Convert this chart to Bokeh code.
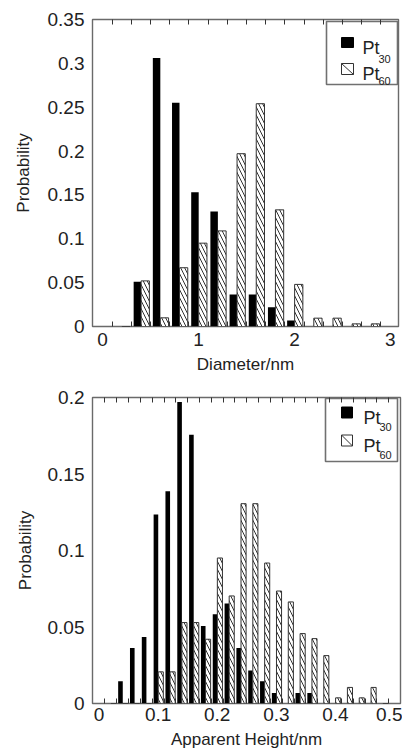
from bokeh.plotting import figure
from bokeh.models import FixedTicker, LinearAxis, Range1d
from bokeh.layouts import column
from bokeh.core.properties import value
from bokeh.embed import file_html
from bokeh.resources import INLINE

# ---------------- data: diameter histogram ----------------
diam_centers = [0.2, 0.4, 0.6, 0.8, 1.0, 1.2, 1.4, 1.6, 1.8, 2.0, 2.2, 2.4, 2.6, 2.8]
pt30_diam = [0, 0.051, 0.306, 0.255, 0.153, 0.131, 0.0365, 0.0365, 0.022, 0.0068, 0, 0, 0, 0]
pt60_diam = [0, 0.052, 0.0099, 0.067, 0.095, 0.109, 0.197, 0.254, 0.133, 0.048, 0.0095, 0.0095, 0.003, 0.003]
diam_edges = [0.1, 0.3, 0.5, 0.7, 0.9, 1.1, 1.3, 1.5, 1.7, 1.9, 2.1, 2.3, 2.5, 2.7, 2.9]
diam_xticks = [0, 1, 2, 3]
diam_xlabels = ["0", "1", "2", "3"]
diam_yticks = [0, 0.05, 0.1, 0.15, 0.2, 0.25, 0.3, 0.35]
diam_ylabels = ["0", "0.05", "0.1", "0.15", "0.2", "0.25", "0.3", "0.35"]

# ---------------- data: apparent height histogram ----------------
height_centers = [0.02, 0.04, 0.06, 0.08, 0.10, 0.12, 0.14, 0.16, 0.18, 0.20, 0.22, 0.24,
                  0.26, 0.28, 0.30, 0.32, 0.34, 0.36, 0.38, 0.40, 0.42, 0.44, 0.46, 0.48]
pt30_height = [0, 0.0146, 0.0363, 0.0435, 0.1236, 0.1387, 0.197, 0.1757, 0.0507, 0.0583, 0.0653, 0.0363,
               0.0215, 0.0146, 0.0069, 0, 0.0069, 0.0069, 0, 0, 0, 0, 0, 0]
pt60_height = [0, 0, 0, 0, 0.0207, 0.0207, 0.0529, 0.0529, 0.042, 0.0951, 0.0703, 0.1306,
               0.1306, 0.0918, 0.0735, 0.0664, 0.0457, 0.0424, 0.0313, 0.0037, 0.0105, 0.0037, 0.0105, 0]
height_edges = [0.01, 0.03, 0.05, 0.07, 0.09, 0.11, 0.13, 0.15, 0.17, 0.19, 0.21, 0.23, 0.25,
                0.27, 0.29, 0.31, 0.33, 0.35, 0.37, 0.39, 0.41, 0.43, 0.45, 0.47, 0.49]
height_xticks = [0, 0.1, 0.2, 0.3, 0.4, 0.5]
height_xlabels = ["0", "0.1", "0.2", "0.3", "0.4", "0.5"]
height_yticks = [0, 0.05, 0.1, 0.15, 0.2]
height_ylabels = ["0", "0.05", "0.1", "0.15", "0.2"]

series_names = ["Pt", "Pt"]
series_subs = ["30", "60"]

FONT = "Liberation Sans"
TXT = "#222222"


def make_panel(centers, s30, s60, edges, xticks, xlabels, yticks, ylabels, xrange_, yrange_,
               binw, xlabel, fw, fh, bl, bt, br, bb, leg, tick_standoff, label_standoff, ylab_standoff):
    p = figure(frame_width=fw, frame_height=fh, min_border_left=bl, min_border_top=bt,
               min_border_right=br, min_border_bottom=bb,
               x_range=Range1d(*xrange_), y_range=Range1d(*yrange_),
               output_backend="svg", toolbar_location=None, tools="")
    p.xgrid.visible = False
    p.ygrid.visible = False
    p.outline_line_color = "#6a6a6a"
    p.outline_line_width = 1.4
    p.background_fill_color = "white"
    p.border_fill_color = "white"

    # bars
    x30 = [c - 0.185 * binw for c in centers]
    x60 = [c + 0.225 * binw for c in centers]
    p.vbar(x=x30, top=s30, width=0.39 * binw, fill_color="black", line_color=None)
    p.vbar(x=x60, top=s60, width=0.43 * binw, fill_color="white", line_color="#333333",
           line_width=1, hatch_pattern="\\", hatch_color="#333333", hatch_scale=8, hatch_weight=1)

    # bottom axis
    xa = p.xaxis[0]
    xa.ticker = FixedTicker(ticks=xticks, minor_ticks=edges)
    xa.major_label_overrides = dict(zip(xticks, xlabels))
    xa.major_tick_in = 0
    xa.major_tick_out = 0
    xa.minor_tick_in = 5
    xa.minor_tick_out = 0
    xa.minor_tick_line_color = "#333333"
    xa.axis_line_color = None
    xa.major_label_text_font = FONT
    xa.major_label_text_font_size = "19px"
    xa.major_label_text_color = TXT
    xa.major_label_standoff = tick_standoff
    xa.axis_label = xlabel
    xa.axis_label_text_font = FONT
    xa.axis_label_text_font_size = "17px"
    xa.axis_label_text_font_style = "normal"
    xa.axis_label_text_color = TXT
    xa.axis_label_standoff = label_standoff

    # top axis with inner ticks at the bin edges
    ta = LinearAxis(ticker=FixedTicker(ticks=[], minor_ticks=edges))
    ta.axis_line_color = None
    ta.major_tick_in = 0
    ta.major_tick_out = 0
    ta.minor_tick_in = 5
    ta.minor_tick_out = 0
    ta.minor_tick_line_color = "#333333"
    ta.major_label_text_font_size = "0px"
    p.add_layout(ta, "above")

    # left axis
    ya = p.yaxis[0]
    ya.ticker = FixedTicker(ticks=yticks)
    ya.major_label_overrides = dict(zip(yticks, ylabels))
    ya.major_tick_in = 0
    ya.major_tick_out = 0
    ya.minor_tick_line_color = None
    ya.axis_line_color = None
    ya.major_label_text_font = FONT
    ya.major_label_text_font_size = "19px"
    ya.major_label_text_color = TXT
    ya.major_label_standoff = 8
    ya.axis_label = "Probability"
    ya.axis_label_text_font = FONT
    ya.axis_label_text_font_size = "17px"
    ya.axis_label_text_font_style = "normal"
    ya.axis_label_text_color = TXT
    ya.axis_label_standoff = ylab_standoff

    # manual legend (pixel offsets from the frame's top-left corner)
    x0, x1 = xrange_
    y0, y1 = yrange_

    def dx(px):
        return x0 + px / fw * (x1 - x0)

    def dy(py):
        return y1 - py / fh * (y1 - y0)

    bx0, bx1, by0, by1 = leg["box"]
    p.quad(left=[dx(bx0)], right=[dx(bx1)], top=[dy(by0)], bottom=[dy(by1)],
           fill_color="white", line_color="#707070", line_width=1.6)
    sx0, sx1 = leg["sqx"]
    for i, (sy0, sy1) in enumerate(leg["sqy"]):
        if i == 0:
            p.quad(left=[dx(sx0)], right=[dx(sx1)], top=[dy(sy0)], bottom=[dy(sy1)],
                   fill_color="black", line_color="black", line_width=1)
        else:
            p.quad(left=[dx(sx0)], right=[dx(sx1)], top=[dy(sy0)], bottom=[dy(sy1)],
                   fill_color="white", line_color="#333333", line_width=1)
            p.segment(x0=[dx(sx0)], y0=[dy(sy0)], x1=[dx(sx1)], y1=[dy(sy1)],
                      line_color="#333333", line_width=1)
        p.text(x=[dx(leg["tx"])], y=[dy(leg["base"][i])], text=[series_names[i]],
               text_font=value(FONT), text_font_size="18px", text_color=TXT,
               text_align="left", text_baseline="alphabetic")
        p.text(x=[dx(leg["subx"])], y=[dy(leg["subbase"][i])], text=[series_subs[i]],
               text_font=value(FONT), text_font_size="11px", text_color=TXT,
               text_align="left", text_baseline="alphabetic")
    return p


leg_top = dict(box=(234, 305, 2, 65), sqx=(249, 261), sqy=[(18, 28), (44, 55)],
               tx=270, base=[28, 54], subx=286, subbase=[39, 61])
leg_bot = dict(box=(233, 305, 1, 64), sqx=(249, 260), sqy=[(9.5, 20.5), (37.5, 48.5)],
               tx=271, base=[20.5, 48.5], subx=287, subbase=[29.5, 57.5])

p1 = make_panel(diam_centers, pt30_diam, pt60_diam, diam_edges, diam_xticks, diam_xlabels,
                diam_yticks, diam_ylabels, (-0.105, 3.085), (0, 0.35), 0.2, "Diameter/nm",
                306, 307, 92, 19, 4, 54, leg_top, 6, 6, 12)
p2 = make_panel(height_centers, pt30_height, pt60_height, height_edges, height_xticks, height_xlabels,
                height_yticks, height_ylabels, (-0.011, 0.51), (0, 0.2), 0.02, "Apparent Height/nm",
                308, 306, 88, 17, 6, 52, leg_bot, 4, 6, 10)

layout = column(p1, p2, spacing=0)
open("out.html", "w").write(file_html(layout, INLINE))
